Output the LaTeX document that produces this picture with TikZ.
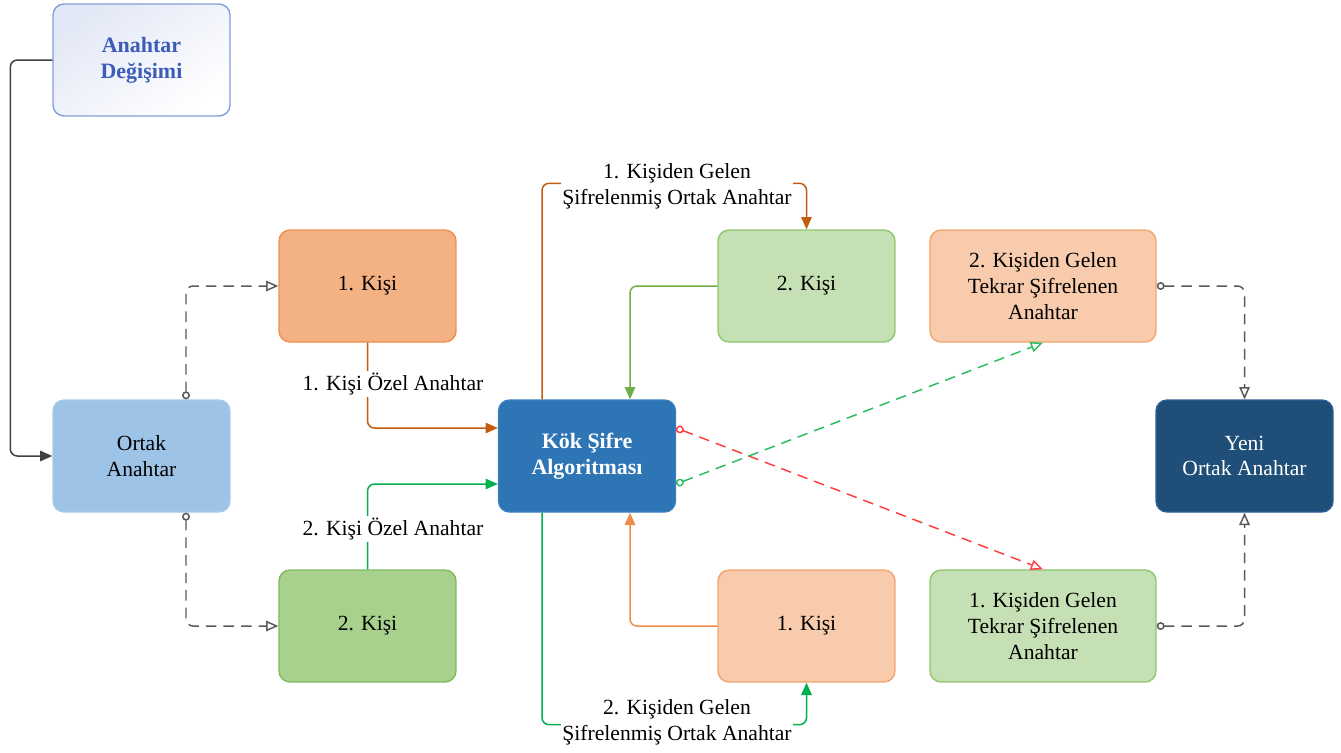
\documentclass[tikz,border=0pt]{standalone}
\usepackage{fontspec}
\setmainfont{Liberation Serif}
\usetikzlibrary{arrows.meta,calc}
\definecolor{adtop}{HTML}{E3E8F6}
\definecolor{adline}{HTML}{7F9FD6}
\definecolor{adtext}{HTML}{3B5CB8}
\definecolor{oafill}{HTML}{9DC3E6}
\definecolor{oaline}{HTML}{A9CBEA}
\definecolor{orfill}{HTML}{F4B183}
\definecolor{orline}{HTML}{EE8F4E}
\definecolor{grfill}{HTML}{A9D18E}
\definecolor{grline}{HTML}{7DBB5A}
\definecolor{lgfill}{HTML}{C5E0B4}
\definecolor{lgline}{HTML}{8DC66C}
\definecolor{lofill}{HTML}{F8CBAD}
\definecolor{loline}{HTML}{F4A46C}
\definecolor{ksfill}{HTML}{2E75B6}
\definecolor{ksline}{HTML}{3A7FC0}
\definecolor{yofill}{HTML}{1F4E79}
\definecolor{yoline}{HTML}{2E5E9A}
\definecolor{grayline}{HTML}{595959}
\definecolor{darkline}{HTML}{404040}
\definecolor{brownor}{HTML}{C55A11}
\definecolor{brightgr}{HTML}{00B050}
\definecolor{midgr}{HTML}{70AD47}
\definecolor{lightor}{HTML}{F08C4A}
\definecolor{redd}{HTML}{FF4040}
\definecolor{greend}{HTML}{2EBD62}
\begin{document}
\begin{tikzpicture}[x=0.02cm,y=-0.02cm,
  font=\fontsize{12.3}{14.7}\selectfont,
  box/.style={rounded corners=0.22cm, minimum width=3.54cm, minimum height=2.24cm,
    align=center, inner sep=2pt, line width=0.8pt},
  wbox/.style={box, minimum width=4.52cm},
  conn/.style={line width=0.85pt, rounded corners=0.14cm},
  fillarrow/.style={-{Triangle[length=7pt,width=6pt]}},
  openarrow/.style={{Circle[open,length=4.5pt,width=4.5pt]}-{Triangle[open,length=7pt,width=6pt]}},
  dashline/.style={dash pattern=on 6pt off 4pt},
  lbl/.style={fill=white, inner sep=1pt, align=center}
]
\useasboundingbox (0,0) rectangle (1341,752);

% nodes
\node[box, draw=adline, top color=adtop, bottom color=white, shading angle=35,
  text=adtext, font=\fontsize{12.5}{14.7}\selectfont\bfseries] (ad) at (141.5,60) {Anahtar\\Değişimi};
\node[box, draw=oaline, fill=oafill] (oa) at (141.5,456) {Ortak\\Anahtar};
\node[box, draw=orline, fill=orfill] (k1) at (367.5,286) {1. Kişi};
\node[box, draw=grline, fill=grfill] (k2) at (367.5,626) {2. Kişi};
\node[box, draw=ksline, fill=ksfill, text=white, font=\fontsize{12.5}{14.7}\selectfont\bfseries] (ksa) at (587,456) {Kök Şifre\\Algoritması};
\node[box, draw=lgline, fill=lgfill] (k2b) at (806.5,286) {2. Kişi};
\node[box, draw=loline, fill=lofill] (k1b) at (806.5,626) {1. Kişi};
\node[wbox, draw=loline, fill=lofill] (r2) at (1043,286) {2. Kişiden Gelen\\Tekrar Şifrelenen\\Anahtar};
\node[wbox, draw=lgline, fill=lgfill] (r1) at (1043,626) {1. Kişiden Gelen\\Tekrar Şifrelenen\\Anahtar};
\node[box, draw=yoline, fill=yofill, text=white] (yoa) at (1244.5,456) {Yeni\\Ortak Anahtar};

% connectors
\draw[conn, darkline, fillarrow] (ad.west) -- ++(-42,0) |- (oa.west);
\draw[conn, grayline, dashline, openarrow] ($(oa.north)+(44.5,0)$) |- (k1.west);
\draw[conn, grayline, dashline, openarrow] ($(oa.south)+(44.5,0)$) |- (k2.west);

\draw[conn, brownor, fillarrow] (k1.south) |- ($(ksa.west)+(0,-28)$);
\draw[conn, brightgr, fillarrow] (k2.north) |- ($(ksa.west)+(0,28)$);
\node[lbl] (l1) at (393,384) {1. Kişi Özel Anahtar};
\node[lbl] (l2) at (393,529) {2. Kişi Özel Anahtar};

\draw[conn, brownor, fillarrow] ($(ksa.north)+(-45,0)$) |- ($(k2b.north)+(0,-46)$) -- (k2b.north);
\node[lbl] (l3) at (677,186) {1. Kişiden Gelen\\Şifrelenmiş Ortak Anahtar};
\draw[conn, midgr, fillarrow] (k2b.west) -| ($(ksa.north)+(43,0)$);
\draw[conn, lightor, fillarrow] (k1b.west) -| ($(ksa.south)+(43,0)$);
\draw[conn, brightgr, fillarrow] ($(ksa.south)+(-45,0)$) |- ($(k1b.south)+(0,42)$) -- (k1b.south);
\node[lbl] (l4) at (677,722) {2. Kişiden Gelen\\Şifrelenmiş Ortak Anahtar};

\draw[conn, redd, dashline, openarrow] ($(ksa.east)+(0,-28)$) -- (r1.north);
\draw[conn, greend, dashline, openarrow] ($(ksa.east)+(0,28)$) -- (r2.south);

\draw[conn, grayline, dashline, openarrow] (r2.east) -| (yoa.north);
\draw[conn, grayline, dashline, openarrow] (r1.east) -| (yoa.south);
\end{tikzpicture}
\end{document}
